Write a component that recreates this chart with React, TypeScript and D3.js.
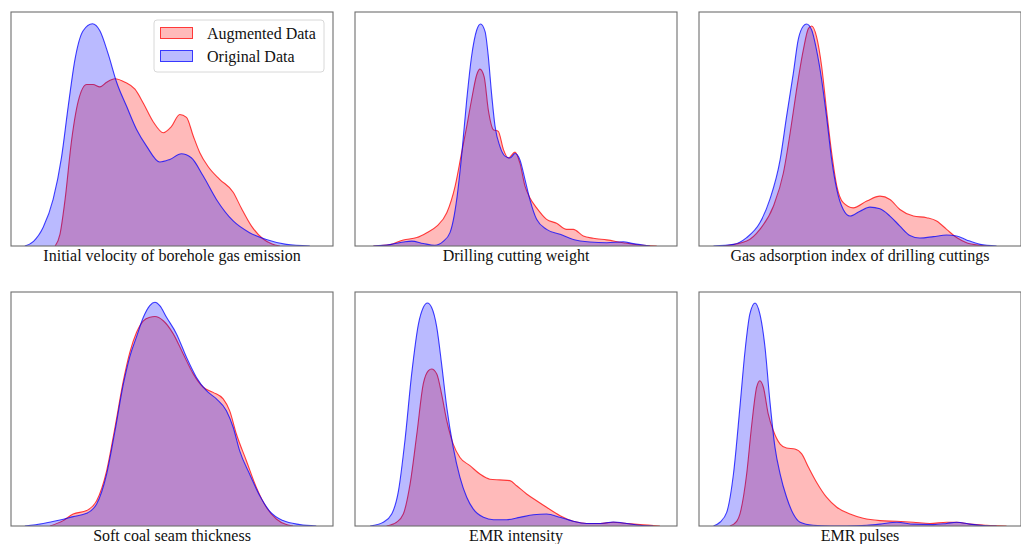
import React from "react";
import * as d3 from "d3";

// ---- Data: relative density (0..1 of axis height) vs. normalised feature value (0..100) ----
const labels = [
  "Initial velocity of borehole gas emission",
  "Drilling cutting weight",
  "Gas adsorption index of drilling cuttings",
  "Soft coal seam thickness",
  "EMR intensity",
  "EMR pulses",
];
const seriesNames = ["Augmented Data", "Original Data"];

const velocityAug: [number, number][] = [
  [13.7, 0], [15.2, 0.05], [16.8, 0.2], [18.8, 0.45], [20.9, 0.62], [23.5, 0.69], [25.5, 0.69], [27.6, 0.68],
  [29.7, 0.7], [32.3, 0.715], [35.4, 0.7], [38.5, 0.67], [41.1, 0.61], [44.2, 0.53], [47.3, 0.484], [49.8, 0.51],
  [52.4, 0.562], [54.5, 0.55], [56.6, 0.47], [58.6, 0.4], [61.2, 0.34], [64.8, 0.285], [69.0, 0.23], [71.6, 0.16],
  [74.7, 0.085], [78.3, 0.03], [80.9, 0.01], [83.5, 0],
];
const velocityOrig: [number, number][] = [
  [4.3, 0], [7.0, 0.02], [10.0, 0.08], [13.1, 0.2], [15.7, 0.38], [17.8, 0.6], [19.9, 0.8], [22.4, 0.92],
  [25.3, 0.95], [27.6, 0.92], [30.2, 0.82], [32.8, 0.7], [35.9, 0.597], [39.0, 0.498], [42.1, 0.427], [46.2, 0.359],
  [49.3, 0.37], [52.9, 0.394], [56.0, 0.377], [59.7, 0.299], [63.8, 0.199], [69.0, 0.107], [74.1, 0.057],
  [79.3, 0.028], [85.5, 0.007], [92.8, 0],
];

const cuttingAug: [number, number][] = [
  [5.7, 0], [10.9, 0.006], [15.0, 0.026], [19.2, 0.036], [22.3, 0.057], [25.4, 0.085], [28.5, 0.142], [31.1, 0.256],
  [33.1, 0.398], [34.7, 0.511], [36.2, 0.625], [37.8, 0.732], [38.8, 0.756], [40.1, 0.724], [41.4, 0.582],
  [43.0, 0.497], [44.5, 0.49], [46.1, 0.412], [47.6, 0.376], [49.7, 0.401], [51.2, 0.355], [52.8, 0.256],
  [54.3, 0.206], [56.4, 0.163], [59.5, 0.114], [62.6, 0.097], [65.7, 0.071], [67.8, 0.071], [70.9, 0.043],
  [74.0, 0.033], [78.2, 0.026], [83.3, 0.014], [88.5, 0.004], [93.7, 0],
];
const cuttingOrig: [number, number][] = [
  [5.7, 0], [10.9, 0.006], [15.0, 0.017], [17.6, 0.021], [21.2, 0.011], [24.8, 0.003], [27.4, 0.02], [29.5, 0.057],
  [31.6, 0.2], [33.1, 0.384], [34.7, 0.625], [36.2, 0.81], [37.8, 0.923], [39.0, 0.949], [40.4, 0.916],
  [41.4, 0.81], [42.4, 0.653], [43.5, 0.511], [45.0, 0.426], [46.6, 0.384], [48.1, 0.376], [49.7, 0.395],
  [51.2, 0.369], [52.8, 0.284], [54.3, 0.199], [56.4, 0.114], [59.5, 0.071], [63.7, 0.05], [67.8, 0.028],
  [73.0, 0.017], [78.2, 0.014], [83.3, 0.018], [86.4, 0.01], [91.6, 0],
];

const adsorptionAug: [number, number][] = [
  [7.6, 0], [14.8, 0.021], [18.9, 0.071], [23.1, 0.17], [26.2, 0.312], [28.3, 0.483], [30.3, 0.668], [32.4, 0.838],
  [34.0, 0.93], [35.0, 0.94], [36.5, 0.895], [38.1, 0.767], [39.6, 0.582], [41.2, 0.398], [42.8, 0.256],
  [44.8, 0.185], [47.9, 0.163], [52.1, 0.192], [56.2, 0.213], [59.3, 0.199], [62.4, 0.156], [66.6, 0.128],
  [70.7, 0.121], [73.8, 0.107], [76.9, 0.071], [80.0, 0.036], [83.1, 0.014], [87.3, 0.003], [90.4, 0],
];
const adsorptionOrig: [number, number][] = [
  [4.5, 0], [10.7, 0.007], [14.8, 0.036], [18.9, 0.099], [22.0, 0.199], [25.2, 0.369], [27.2, 0.554], [29.3, 0.739],
  [30.8, 0.881], [32.4, 0.94], [33.4, 0.949], [35.0, 0.923], [36.5, 0.838], [38.1, 0.71], [39.6, 0.554],
  [41.2, 0.369], [42.8, 0.241], [44.8, 0.156], [46.9, 0.128], [50.0, 0.149], [53.1, 0.166], [56.2, 0.159],
  [59.3, 0.128], [62.4, 0.085], [65.5, 0.045], [68.6, 0.034], [72.8, 0.04], [76.9, 0.047], [80.0, 0.043],
  [83.1, 0.026], [87.3, 0.007], [92.4, 0],
];

const thicknessAug: [number, number][] = [
  [12.1, 0], [16.2, 0.023], [19.3, 0.051], [23.5, 0.066], [26.6, 0.108], [29.7, 0.236], [32.3, 0.422], [34.9, 0.621],
  [36.9, 0.742], [39.0, 0.828], [41.1, 0.877], [43.1, 0.892], [44.7, 0.895], [47.3, 0.877], [50.4, 0.821],
  [53.5, 0.735], [56.6, 0.65], [59.7, 0.593], [62.8, 0.571], [65.9, 0.543], [67.9, 0.493], [70.0, 0.393],
  [73.1, 0.279], [76.2, 0.165], [79.3, 0.08], [82.4, 0.03], [85.5, 0.006], [87.6, 0],
];
const thicknessOrig: [number, number][] = [
  [4.3, 0], [10.0, 0.011], [15.2, 0.026], [19.3, 0.04], [23.5, 0.054], [26.6, 0.094], [29.7, 0.222], [32.3, 0.407],
  [34.9, 0.607], [36.9, 0.724], [39.0, 0.809], [41.1, 0.892], [43.1, 0.942], [44.7, 0.956], [46.2, 0.942],
  [48.3, 0.892], [51.4, 0.821], [54.5, 0.721], [57.6, 0.635], [60.7, 0.578], [63.8, 0.543], [66.9, 0.493],
  [69.0, 0.422], [71.0, 0.322], [74.1, 0.222], [77.3, 0.128], [80.3, 0.064], [84.5, 0.023], [89.7, 0.006],
  [94.8, 0],
];

const intensityAug: [number, number][] = [
  [9.8, 0], [12.9, 0.016], [15.0, 0.051], [17.1, 0.179], [19.2, 0.393], [21.2, 0.607], [22.8, 0.664], [23.8, 0.671],
  [25.4, 0.65], [26.9, 0.564], [28.5, 0.45], [30.5, 0.35], [32.6, 0.293], [35.7, 0.258], [38.8, 0.222],
  [41.9, 0.2], [45.0, 0.197], [48.1, 0.194], [50.2, 0.172], [53.3, 0.137], [56.4, 0.108], [59.5, 0.08],
  [63.7, 0.044], [67.8, 0.02], [71.9, 0.011], [76.1, 0.011], [80.2, 0.016], [84.4, 0.011], [88.5, 0.006],
  [94.7, 0],
];
const intensityOrig: [number, number][] = [
  [4.7, 0], [8.8, 0.016], [11.4, 0.051], [13.5, 0.15], [15.5, 0.364], [17.6, 0.65], [19.7, 0.863], [21.2, 0.934],
  [22.5, 0.953], [23.8, 0.934], [25.4, 0.849], [26.9, 0.692], [28.5, 0.507], [30.5, 0.336], [32.6, 0.208],
  [34.7, 0.123], [36.7, 0.073], [39.9, 0.037], [43.0, 0.027], [47.1, 0.027], [51.2, 0.037], [55.4, 0.048],
  [59.5, 0.051], [63.7, 0.037], [67.8, 0.02], [71.9, 0.011], [76.1, 0.011], [80.2, 0.017], [84.4, 0.011],
  [88.5, 0.003], [92.6, 0],
];

const pulsesAug: [number, number][] = [
  [9.6, 0], [11.7, 0.02], [12.7, 0.051], [14.8, 0.222], [16.4, 0.436], [17.9, 0.593], [18.9, 0.621], [20.0, 0.593],
  [21.5, 0.479], [23.1, 0.407], [25.2, 0.35], [27.2, 0.333], [29.8, 0.329], [31.9, 0.308], [34.0, 0.251],
  [36.5, 0.187], [39.6, 0.123], [42.8, 0.08], [46.9, 0.051], [51.0, 0.033], [56.2, 0.023], [61.4, 0.02],
  [66.6, 0.016], [71.7, 0.011], [76.9, 0.016], [80.0, 0.016], [84.2, 0.008], [89.3, 0.003], [95.5, 0],
];
const pulsesOrig: [number, number][] = [
  [4.5, 0], [6.5, 0.016], [8.6, 0.058], [10.7, 0.222], [12.7, 0.507], [14.3, 0.749], [15.8, 0.906], [17.4, 0.953],
  [18.9, 0.906], [20.5, 0.764], [22.0, 0.536], [23.6, 0.336], [25.2, 0.222], [27.2, 0.123], [29.3, 0.051],
  [31.4, 0.016], [35.5, 0.003], [40.7, 0], [45.9, 0], [52.1, 0.003], [56.2, 0.008], [61.4, 0.016], [66.6, 0.008],
  [72.8, 0.006], [76.9, 0.011], [80.0, 0.016], [84.2, 0.008], [89.3, 0.001], [92.4, 0],
];

const augmentedSeries = [velocityAug, cuttingAug, adsorptionAug, thicknessAug, intensityAug, pulsesAug];
const originalSeries = [velocityOrig, cuttingOrig, adsorptionOrig, thicknessOrig, intensityOrig, pulsesOrig];

// ---- Layout / style ----
const W = 1021;
const H = 544;
const colLefts = [11, 355, 699];
const rowTops = [12, 292];
const PW = 322;
const PH = 234;
const RED = "#ff0000";
const BLUE = "#0000ff";
const FILL_ALPHA = 0.27;
const FONT = "'Liberation Serif', 'Times New Roman', serif";

function Panel({ idx }: { idx: number }) {
  const col = idx % 3;
  const row = Math.floor(idx / 3);
  const x0 = colLefts[col];
  const y0 = rowTops[row];
  const x = d3.scaleLinear().domain([0, 100]).range([x0, x0 + PW]);
  const y = d3.scaleLinear().domain([0, 1]).range([y0 + PH, y0]);
  const area = d3
    .area<[number, number]>()
    .x((d) => x(d[0]))
    .y0(y(0))
    .y1((d) => y(d[1]))
    .curve(d3.curveMonotoneX);
  const line = d3
    .line<[number, number]>()
    .x((d) => x(d[0]))
    .y((d) => y(d[1]))
    .curve(d3.curveMonotoneX);
  const clipId = `clip-${idx}`;
  return (
    <g>
      <defs>
        <clipPath id={clipId}>
          <rect x={x0} y={y0} width={PW} height={PH} />
        </clipPath>
      </defs>
      <g clipPath={`url(#${clipId})`}>
        <path d={area(augmentedSeries[idx]) || ""} fill={RED} fillOpacity={FILL_ALPHA} stroke="none" />
        <path d={line(augmentedSeries[idx]) || ""} fill="none" stroke={RED} strokeOpacity={0.75} strokeWidth={1.1} />
        <path d={area(originalSeries[idx]) || ""} fill={BLUE} fillOpacity={FILL_ALPHA} stroke="none" />
        <path d={line(originalSeries[idx]) || ""} fill="none" stroke={BLUE} strokeOpacity={0.75} strokeWidth={1.1} />
      </g>
      <rect x={x0} y={y0} width={PW} height={PH} fill="none" stroke="#6e6e6e" strokeWidth={1.1} />
      <text
        x={x0 + PW / 2}
        y={y0 + PH + (row === 0 ? 15 : 15)}
        textAnchor="middle"
        fontFamily={FONT}
        fontSize={16}
        fill="#111"
      >
        {labels[idx]}
      </text>
    </g>
  );
}

function Legend() {
  const lx = 154;
  const ly = 20;
  const entries = [
    { name: seriesNames[0], color: RED },
    { name: seriesNames[1], color: BLUE },
  ];
  return (
    <g>
      <rect x={lx} y={ly} width={170} height={52} rx={3} fill="#fff" fillOpacity={0.85} stroke="#d8d8d8" strokeWidth={1} />
      {entries.map((e, i) => (
        <g key={e.name}>
          <rect
            x={lx + 6.5}
            y={ly + 7.5 + i * 23}
            width={32}
            height={11}
            fill={e.color}
            fillOpacity={FILL_ALPHA}
            stroke={e.color}
            strokeOpacity={0.75}
          />
          <text x={lx + 53} y={ly + 18.5 + i * 23} fontFamily={FONT} fontSize={16} fill="#111">
            {e.name}
          </text>
        </g>
      ))}
    </g>
  );
}

export default function App() {
  return (
    <svg
      width={W}
      height={H}
      viewBox={`0 0 ${W} ${H}`}
      style={{ position: "absolute", left: 0, top: 0, background: "#fff" }}
    >
      <rect x={0} y={0} width={W} height={H} fill="#fff" />
      {labels.map((_, i) => (
        <Panel key={i} idx={i} />
      ))}
      <Legend />
    </svg>
  );
}
